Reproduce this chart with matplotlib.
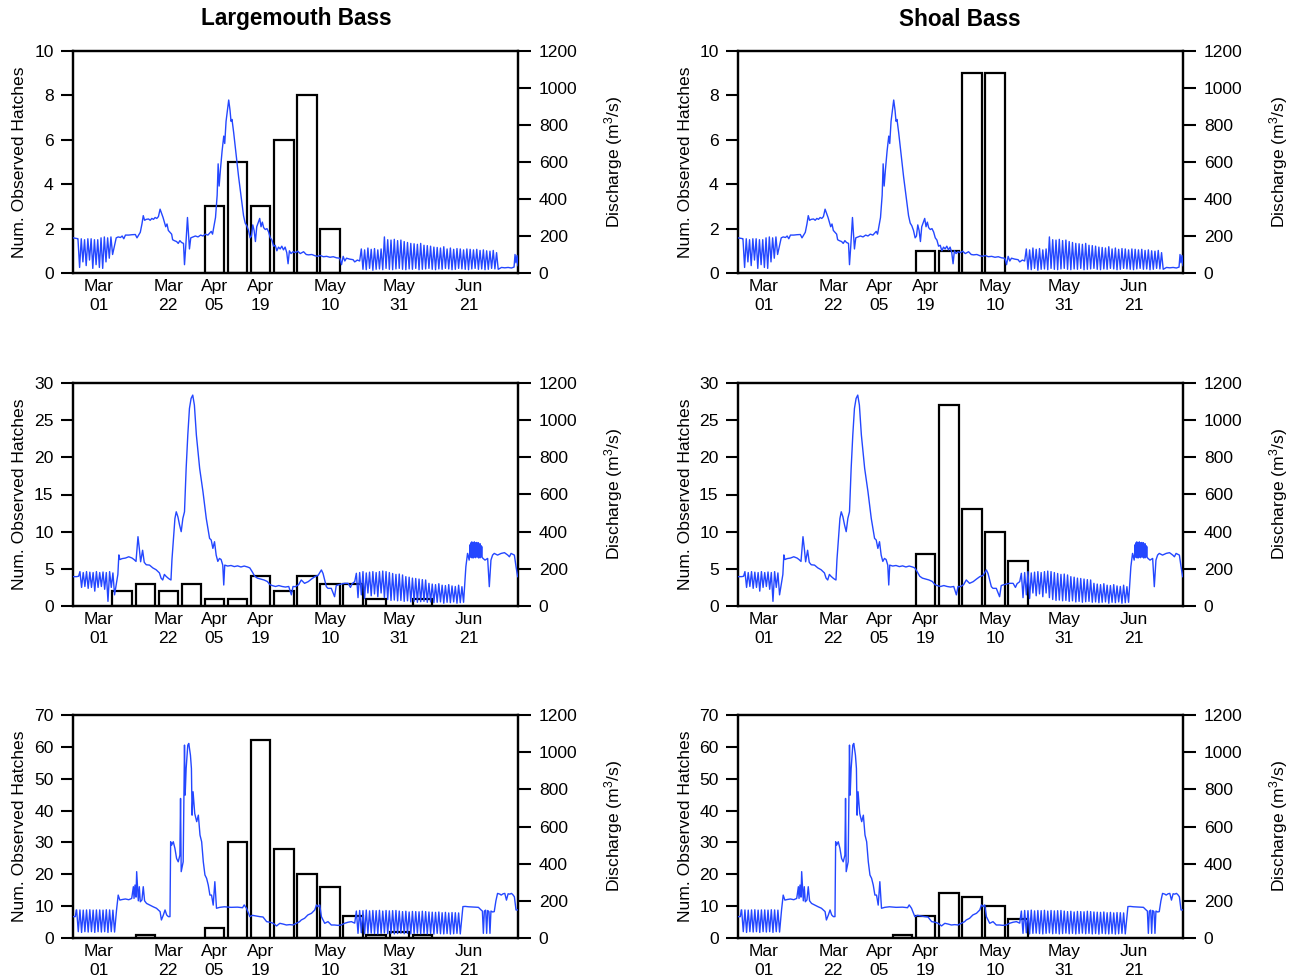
import matplotlib
matplotlib.use('Agg')
import matplotlib.pyplot as plt

plt.rcParams['font.family'] = ['Liberation Sans', 'DejaVu Sans']
plt.rcParams['mathtext.default'] = 'regular'

# ---------------- data ----------------
# weekly hatch bins, days since Mar 01
week_days = [0, 7, 14, 21, 28, 35, 42, 49, 56, 63, 70, 77, 84, 91, 98]
lmb_counts_1 = [0, 0, 0, 0, 0, 3, 5, 3, 6, 8, 2, 0, 0, 0, 0]
sb_counts_1 = [0, 0, 0, 0, 0, 0, 0, 1, 1, 9, 9, 0, 0, 0, 0]
lmb_counts_2 = [0, 2, 3, 2, 3, 1, 1, 4, 2, 4, 3, 3, 1, 0, 1]
sb_counts_2 = [0, 0, 0, 0, 0, 0, 0, 7, 27, 13, 10, 6, 0, 0, 0]
lmb_counts_3 = [0, 0, 1, 0, 0, 3, 30, 62, 28, 20, 16, 7, 1, 2, 1]
sb_counts_3 = [0, 0, 0, 0, 0, 0, 1, 7, 14, 13, 10, 6, 0, 0, 0]

tick_days = [0, 21, 35, 49, 70, 91, 112]
tick_labels = ['Mar\n01', 'Mar\n22', 'Apr\n05', 'Apr\n19', 'May\n10', 'May\n31', 'Jun\n21']
row_ymax = [10, 30, 70]
row_ystep = [2, 5, 10]

# discharge, year of row 1: (day since Mar 01, m3/s)
q1_a = [(-7.9, 190), (-7.2, 188), (-6.6, 186)]
q1_osc1_start = -6.4
q1_osc1_hi = [185, 185, 180, 185, 185, 180, 180, 190, 195, 190, 195]
q1_osc1_lo = [30, 60, 40, 70, 25, 45, 30, 25, 60, 80, 100]
q1_b = [(5.2, 190), (5.8, 195), (6.5, 192), (7, 200), (7.5, 185), (8, 205), (9, 205), (10, 207),
        (11, 208), (11.5, 190), (12, 205), (12.5, 220), (13, 265), (13.4, 310), (13.8, 285),
        (14.3, 290), (15, 292), (15.5, 285), (16, 295), (16.5, 290), (17, 300), (17.5, 295),
        (18, 305), (18.5, 345), (19, 320), (19.4, 300), (19.8, 275), (20.2, 250), (20.6, 265),
        (21, 230), (21.5, 220), (22, 210), (22.3, 180), (22.8, 175), (23.5, 170), (24, 160),
        (24.5, 175), (25, 165), (25.6, 160), (25.9, 45), (26.3, 150), (26.8, 300), (27.1, 210),
        (27.4, 130), (27.8, 190), (28.5, 195), (29.2, 200), (30, 195), (30.8, 205), (31.5, 200),
        (32.2, 210), (33, 205), (33.5, 215), (34, 225), (34.4, 210), (34.8, 250), (35.3, 300),
        (35.8, 420), (36.1, 590), (36.4, 470), (36.8, 560), (37.3, 660), (37.8, 740), (38.1, 700),
        (38.5, 820), (38.9, 880), (39.3, 935), (39.7, 880), (40, 820), (40.3, 830), (40.8, 760),
        (41.3, 680), (41.8, 600), (42.3, 520), (42.8, 450), (43.3, 380), (43.8, 310), (44.3, 270),
        (44.8, 255), (45.3, 230), (45.8, 190), (46.2, 200), (46.6, 260), (47, 230), (47.4, 170),
        (47.8, 250), (48.3, 275), (48.7, 295), (49.1, 250), (49.5, 275), (49.9, 245), (50.4, 235),
        (50.9, 240), (51.4, 222), (51.9, 190), (52.4, 178), (52.9, 145), (53.4, 150), (53.9, 120),
        (54.4, 140), (54.9, 130), (55.4, 145), (55.9, 125), (56.4, 140), (56.9, 110), (57.3, 50),
        (57.7, 120), (58.2, 105), (58.8, 115), (59.5, 110), (60.2, 118), (61, 105), (62, 115),
        (62.8, 100), (63.5, 98), (64.5, 100), (65.5, 93), (66.3, 90), (67, 95), (68, 88), (69, 90),
        (70, 85), (71, 88), (72, 82), (73, 80), (73.5, 45), (74, 90), (74.5, 65), (75, 80),
        (76, 75), (77, 72), (77.5, 60), (78.3, 70), (79, 65)]
q1_osc2_start = 79.5
q1_osc2_hi = [130, 125, 135, 128, 132, 125, 130,
              195, 180, 178, 182, 175, 178, 170,
              165, 160, 158, 155, 160, 150, 148,
              145, 140, 138, 135, 142, 130, 135, 128, 132, 130, 125, 130, 128, 125, 128, 122,
              125, 120, 118, 122, 110]
q1_osc2_lo = [20, 18, 25, 15, 20, 22, 18, 25, 20, 18, 22, 25, 20, 18, 22, 20, 25, 18, 20, 22, 25,
              20, 18, 22, 20, 25, 22, 18, 20, 25, 22, 20, 18, 22, 25, 20, 22, 18, 20, 25, 22, 20]
q1_c = [(122, 30), (123, 28), (124, 30), (125, 27), (125.8, 32), (126.1, 100), (126.4, 55),
        (126.7, 95), (127, 40)]

# discharge, year of row 2
q2_a = [(-7.9, 158), (-6.8, 158), (-6.2, 160)]
q2_osc1_start = -5.8
q2_osc1_hi = [185, 180, 185, 182, 180, 185, 180, 183, 180, 185, 178]
q2_osc1_lo = [100, 105, 95, 100, 80, 100, 105, 90, 25, 100, 60]
q2_b = [(5.7, 170), (6.0, 275), (6.3, 250), (7, 255), (8, 258), (9, 265), (10, 258), (10.6, 250),
        (11.2, 240), (11.8, 373), (12.2, 310), (12.6, 238), (13.2, 300), (13.7, 235), (14.3, 222),
        (15.3, 220), (16.3, 205), (17.3, 195), (18.3, 178), (18.8, 150), (19.3, 140), (19.8, 170),
        (20.3, 160), (20.8, 152), (21.3, 145), (21.8, 140), (22.1, 250), (22.5, 346), (23, 471),
        (23.4, 507), (23.9, 480), (24.4, 436), (24.9, 400), (25.4, 471), (25.9, 507), (26.4, 740),
        (26.9, 920), (27.4, 1063), (27.9, 1117), (28.4, 1135), (28.9, 1081), (29.5, 920),
        (30, 830), (30.5, 740), (31.5, 615), (32.5, 471), (33.5, 364), (34, 355), (34.5, 310),
        (35, 346), (35.5, 274), (36, 240), (36.5, 256), (37, 250), (37.5, 220), (37.8, 113),
        (38.1, 220), (39, 215), (40, 218), (41, 212), (42, 216), (43, 210), (44, 215), (45, 210),
        (45.7, 205), (46.4, 185), (47.2, 160), (48, 150), (49, 145), (50, 140), (51, 132),
        (51.8, 115), (52.5, 110), (53.5, 105), (54.5, 110), (55.5, 105), (56.5, 102), (57.5, 105),
        (58.3, 60), (58.8, 105), (59.5, 104), (60.5, 115), (61.3, 140), (62.3, 122), (63.4, 131),
        (64.4, 145), (65.4, 158), (66.4, 165), (67.4, 194), (67.9, 175), (68.4, 140), (68.9, 104),
        (69.4, 95), (70.4, 95), (71.4, 50), (71.9, 110), (72.4, 113), (73.4, 118), (74.4, 122),
        (75.5, 122), (76.2, 100), (76.7, 120), (77.5, 131)]
q2_osc2_start = 78
q2_osc2_hi = [176, 180, 185, 178, 182, 185, 180, 185, 188,
              185, 180, 175, 170, 172, 167,
              158, 155, 150, 148, 145, 142, 140,
              122, 118, 115, 120, 112, 110, 115, 108, 105, 112, 104]
q2_osc2_lo = [45, 60, 40, 70, 55, 65, 50, 70, 45, 35, 30, 32, 28, 30, 25, 28, 22, 25, 20, 23, 25,
              20, 22, 18, 20, 22, 15, 20, 18, 22, 15, 18, 20]
q2_c = [(111.2, 212), (111.7, 283), (112.2, 247)]
q2_dense_start = 112.5
q2_dense_hi = [330, 340, 345, 340, 335, 345, 340, 338, 342, 335, 340, 330, 335, 325, 320]
q2_dense_lo = [265, 260, 270, 258, 262, 268, 260, 265, 270, 262, 258, 265, 260, 268, 262]
q2_d = [(116.4, 256), (117, 247), (117.8, 256), (118.3, 104), (118.8, 247), (119.3, 274),
        (119.8, 283), (120.8, 274), (121.9, 283), (122.9, 287), (123.9, 274), (124.4, 265),
        (124.9, 283), (125.9, 274), (126.4, 212), (126.9, 158)]

# discharge, year of row 3
q3_a = [(-7.9, 115), (-7.2, 115), (-6.9, 151)]
q3_osc1_start = -6.8
q3_osc1_hi = [151, 151, 150, 151, 152, 150, 151, 151, 150, 152, 151, 150]
q3_osc1_lo = [34, 30, 34, 32, 34, 30, 34, 32, 34, 30, 34, 32]
q3_b = [(5.3, 151), (5.8, 231), (6.3, 204), (7, 207), (8, 210), (9, 206), (9.9, 213), (10.4, 276),
        (10.6, 213), (10.9, 285), (11.2, 220), (11.4, 357), (11.7, 267), (11.9, 200), (12.2, 276),
        (12.5, 195), (13, 205), (13.4, 276), (13.8, 200), (14.4, 186), (15.4, 177), (16.4, 168),
        (17.4, 160), (18.5, 142), (18.9, 97), (19.5, 124), (20, 151), (20.5, 124), (21, 115),
        (21.5, 115), (21.7, 518), (22, 500), (22.5, 518), (23, 482), (23.5, 428), (24, 410),
        (24.5, 446), (24.7, 751), (24.9, 357), (25.5, 410), (25.9, 1038), (26.1, 769),
        (26.4, 912), (26.9, 1038), (27.2, 1047), (27.7, 984), (28, 912), (28.2, 661), (28.5, 787),
        (29, 670), (29.6, 626), (30.1, 661), (30.6, 554), (31.1, 518), (31.6, 410), (32.1, 339),
        (32.6, 321), (33.1, 285), (33.6, 231), (34.1, 231), (34.6, 177), (35.1, 303), (35.6, 160),
        (36.6, 165), (38, 168), (40, 165), (42, 166), (43.5, 163), (44, 178), (44.7, 160),
        (45.7, 115), (46.5, 122), (47.7, 118), (48.7, 115), (49.7, 113), (50.8, 88), (51.8, 85),
        (52.8, 79), (53.8, 65), (54.8, 79), (55.8, 75), (56.8, 70), (57.8, 72), (58.8, 70),
        (59.8, 79), (60.8, 88), (61.3, 97), (62.3, 106), (63.3, 124), (64.4, 133), (65.4, 151),
        (65.9, 178), (66.4, 169), (66.9, 178), (67.4, 115), (68.4, 79), (69.4, 88), (70.4, 70),
        (71.4, 70), (72.4, 68), (73.4, 70), (74.4, 79), (75.5, 85), (76.5, 88), (77.5, 80)]
q3_osc2_start = 78
q3_osc2_hi = [145, 148, 147, 150, 146, 148, 147, 149, 145, 148, 146, 147, 148, 145, 142, 144,
              140, 143, 142, 141, 144, 142, 140, 139, 138, 140, 136, 138, 135, 137, 136, 135]
q3_osc2_lo = [25, 28, 22, 25, 26, 24, 22, 25, 27, 23, 25, 22, 24, 26, 23, 25, 22, 24, 26, 23,
              25, 22, 24, 21, 25, 23, 22, 24, 21, 23, 25, 22]
q3_c = [(110.3, 169), (111, 170), (112, 168), (113, 167), (114, 166), (115, 165), (115.8, 151),
        (116.2, 145), (116.5, 25), (116.8, 145), (117.2, 150), (117.5, 25), (117.8, 148),
        (118.2, 142), (118.5, 25), (118.8, 145), (119.3, 140), (119.8, 142), (120.3, 200),
        (120.8, 240), (121.5, 236), (121.9, 231), (122.5, 238), (123, 240), (123.5, 204),
        (124, 238), (124.5, 236), (125, 240), (125.4, 234), (125.9, 222), (126.4, 151),
        (126.9, 151)]


def cycles(start, hi, lo, step=1.0):
    pts = []
    for i, (h, l) in enumerate(zip(hi, lo)):
        pts.append((start + i * step, h))
        pts.append((start + i * step + step / 2, l))
    return pts


q1 = q1_a + cycles(q1_osc1_start, q1_osc1_hi, q1_osc1_lo) + q1_b + \
    cycles(q1_osc2_start, q1_osc2_hi, q1_osc2_lo) + q1_c
q2 = q2_a + cycles(q2_osc1_start, q2_osc1_hi, q2_osc1_lo) + q2_b + \
    cycles(q2_osc2_start, q2_osc2_hi, q2_osc2_lo) + q2_c + \
    cycles(q2_dense_start, q2_dense_hi, q2_dense_lo, step=0.25) + q2_d
q3 = q3_a + cycles(q3_osc1_start, q3_osc1_hi, q3_osc1_lo) + q3_b + \
    cycles(q3_osc2_start, q3_osc2_hi, q3_osc2_lo) + q3_c
discharge = [q1, q2, q3]
counts = [[lmb_counts_1, sb_counts_1], [lmb_counts_2, sb_counts_2], [lmb_counts_3, sb_counts_3]]

# ---------------- figure ----------------
W, H = 1291, 980
fig = plt.figure(figsize=(W / 100, H / 100), dpi=100)
col_px = [(73, 518), (738, 1183)]
row_px = [(51, 273), (383, 606), (715, 938)]
FS = 12.6
LINE_C = '#2447ff'

for r in range(3):
    for c in range(2):
        x0, x1 = col_px[c]
        y0, y1 = row_px[r]
        ax = fig.add_axes([x0 / W, 1 - y1 / H, (x1 - x0) / W, (y1 - y0) / H])
        vals = counts[r][c]
        bd = [d for d, v in zip(week_days, vals) if v > 0]
        bv = [v for v in vals if v > 0]
        ax.bar(bd, bv, width=5.9, color='white', edgecolor='black', linewidth=1.6, zorder=2)
        ax.set_xlim(-7.9, 127.0)
        ax.set_ylim(0, row_ymax[r])
        ax.set_yticks(range(0, row_ymax[r] + 1, row_ystep[r]))
        ax.set_xticks(tick_days)
        ax.set_xticklabels(tick_labels, fontsize=FS, linespacing=1.38)
        ax.tick_params(axis='x', length=0, pad=4)
        ax.tick_params(axis='y', length=9, width=1.5, labelsize=FS, pad=5)
        for s in ax.spines.values():
            s.set_linewidth(1.6)

        ax2 = ax.twinx()
        ax2.plot([p[0] for p in discharge[r]], [p[1] for p in discharge[r]],
                 color=LINE_C, linewidth=1.0, zorder=3)
        ax2.set_ylim(0, 1200)
        ax2.set_yticks(range(0, 1201, 200))
        ax2.tick_params(axis='y', length=9, width=1.5, labelsize=FS, pad=6)
        ax2.set_xlim(-7.9, 127.0)
        for s in ax2.spines.values():
            s.set_linewidth(1.6)

        yc = 1 - (y0 + y1) / 2 / H
        fig.text((x0 - 53) / W, yc, 'Num. Observed Hatches', rotation=90,
                 ha='center', va='center', fontsize=FS)
        fig.text((x1 + 96) / W, yc, 'Discharge (m$^3$/s)', rotation=90,
                 ha='center', va='center', fontsize=FS)

fig.text(296 / W, 1 - 19 / H, 'Largemouth Bass', ha='center', va='center',
         fontsize=16.3, fontweight='bold')
fig.text(960 / W, 1 - 19 / H, 'Shoal Bass', ha='center', va='center',
         fontsize=16.3, fontweight='bold')

fig.savefig('out.png', dpi=100)
